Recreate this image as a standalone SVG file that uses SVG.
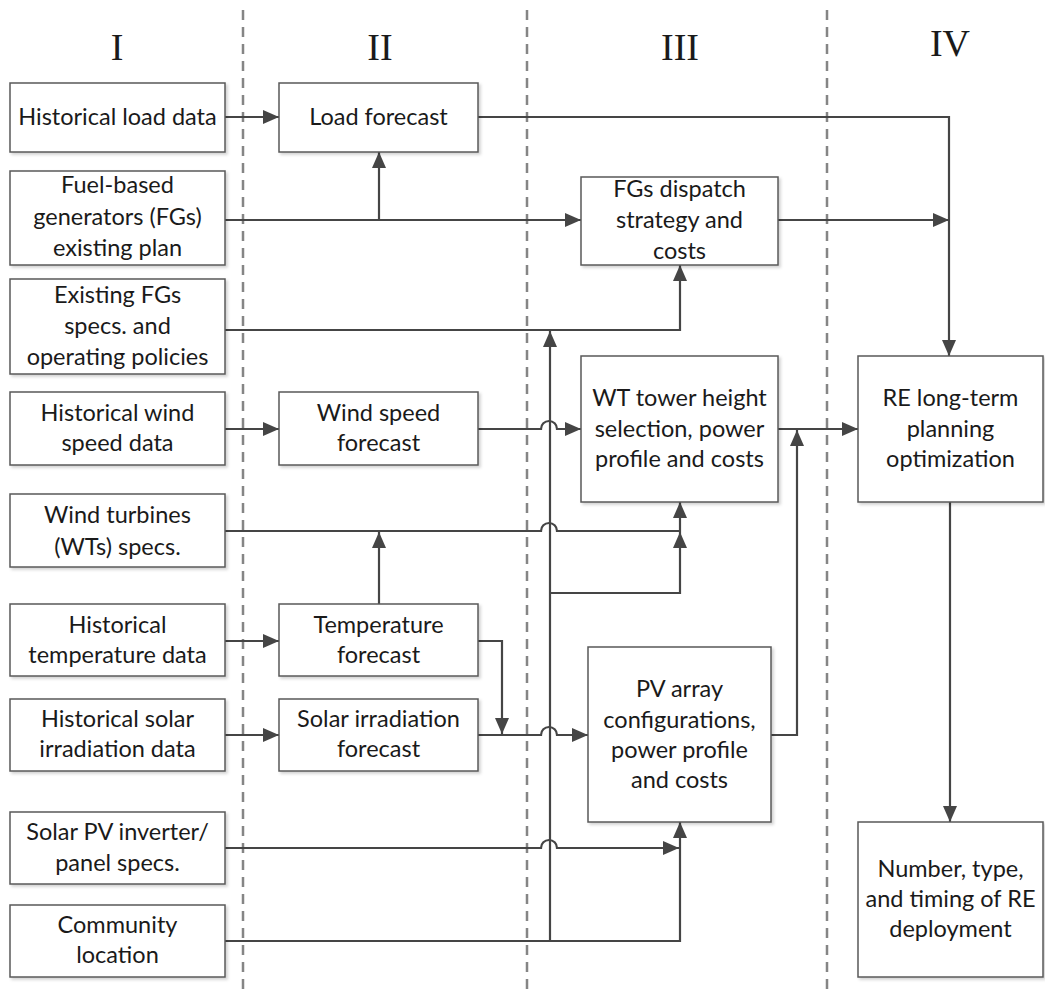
<svg xmlns="http://www.w3.org/2000/svg" width="1045" height="1003" viewBox="0 0 1045 1003">
<style>
.box{fill:#fff;stroke:#5a5a5a;stroke-width:1.5;filter:url(#sh)}
.t{font-family:Lato,"Open Sans","Liberation Sans",sans-serif;font-size:23.5px;fill:#1a1a1a;text-anchor:middle}
.rn{font-family:"Liberation Serif","Times New Roman",serif;font-size:38px;fill:#1a1a1a;text-anchor:middle}
.dash{stroke:#858585;stroke-width:2.5;stroke-dasharray:10 7;fill:none}
.c{fill:none;stroke:#454545;stroke-width:2.2}
.a{marker-end:url(#ah)}
</style>
<defs>
<filter id="sh" x="-10%" y="-10%" width="130%" height="130%">
<feDropShadow dx="2" dy="2" stdDeviation="1.5" flood-color="#000" flood-opacity="0.18"/>
</filter>
<marker id="ah" markerUnits="userSpaceOnUse" markerWidth="16" markerHeight="14" refX="16" refY="7" orient="auto">
<path d="M0,0 L16,7 L0,14 z" fill="#454545"/>
</marker>
</defs>
<rect width="1045" height="1003" fill="#fff"/>
<g id="dividers">
<line class="dash" x1="243" y1="10" x2="243" y2="995"/>
<line class="dash" x1="527" y1="10" x2="527" y2="995"/>
<line class="dash" x1="827" y1="10" x2="827" y2="995"/>
</g>
<g id="headers">
<text class="rn" x="117" y="60">I</text>
<text class="rn" x="380" y="60">II</text>
<text class="rn" x="680" y="60">III</text>
<text class="rn" x="950" y="56">IV</text>
</g>
<g id="connectors">
<path class="c a" d="M225,117 H279"/>
<path class="c a" d="M478,117 H949 V356"/>
<path class="c a" d="M225,220 H581"/>
<path class="c a" d="M379,220 V152"/>
<path class="c a" d="M778,220 H949"/>
<path class="c a" d="M225,330 H680 V265"/>
<path class="c a" d="M225,941 H680 V822"/>
<path class="c a" d="M550,941 V331"/>
<path class="c a" d="M550,593 H680 V532"/>
<path class="c a" d="M225,531 H541 A8,8 0 0 1 557,531 H680 V502"/>
<path class="c a" d="M379,604 V532"/>
<path class="c a" d="M225,429 H279"/>
<path class="c a" d="M478,429 H541 A8,8 0 0 1 557,429 H581"/>
<path class="c a" d="M778,429 H858"/>
<path class="c a" d="M771,735 H797 V430"/>
<path class="c a" d="M225,641 H279"/>
<path class="c a" d="M478,641 H502 V734"/>
<path class="c a" d="M225,735 H279"/>
<path class="c a" d="M478,735 H541 A8,8 0 0 1 557,735 H588"/>
<path class="c a" d="M225,848 H541 A8,8 0 0 1 557,848 H679"/>
<path class="c a" d="M950,502 V822"/>
</g>
<g id="n-hist-load"><rect class="box" x="10" y="83" width="215" height="69"/><text class="t" x="117.5" y="125">Historical load data</text></g>
<g id="n-fuel-plan"><rect class="box" x="10" y="171" width="215" height="94"/><text class="t" x="117.5" y="193">Fuel-based</text><text class="t" x="117.5" y="225">generators (FGs)</text><text class="t" x="117.5" y="256">existing plan</text></g>
<g id="n-fg-specs"><rect class="box" x="10" y="279" width="215" height="95"/><text class="t" x="117.5" y="303">Existing FGs</text><text class="t" x="117.5" y="334">specs. and</text><text class="t" x="117.5" y="365">operating policies</text></g>
<g id="n-hist-wind"><rect class="box" x="10" y="392" width="215" height="73"/><text class="t" x="117.5" y="421">Historical wind</text><text class="t" x="117.5" y="451">speed data</text></g>
<g id="n-wt-specs"><rect class="box" x="10" y="494" width="215" height="73"/><text class="t" x="117.5" y="523">Wind turbines</text><text class="t" x="117.5" y="555">(WTs) specs.</text></g>
<g id="n-hist-temp"><rect class="box" x="10" y="604" width="215" height="72"/><text class="t" x="117.5" y="633">Historical</text><text class="t" x="117.5" y="663">temperature data</text></g>
<g id="n-hist-solar"><rect class="box" x="10" y="699" width="215" height="72"/><text class="t" x="117.5" y="727">Historical solar</text><text class="t" x="117.5" y="757">irradiation data</text></g>
<g id="n-pv-specs"><rect class="box" x="10" y="812" width="215" height="72"/><text class="t" x="117.5" y="840">Solar PV inverter/</text><text class="t" x="117.5" y="871">panel specs.</text></g>
<g id="n-community"><rect class="box" x="10" y="905" width="215" height="72"/><text class="t" x="117.5" y="933">Community</text><text class="t" x="117.5" y="963">location</text></g>
<g id="n-load-fc"><rect class="box" x="279" y="83" width="199" height="69"/><text class="t" x="378.5" y="125">Load forecast</text></g>
<g id="n-wind-fc"><rect class="box" x="279" y="392" width="199" height="73"/><text class="t" x="378.5" y="421">Wind speed</text><text class="t" x="378.5" y="451">forecast</text></g>
<g id="n-temp-fc"><rect class="box" x="279" y="604" width="199" height="72"/><text class="t" x="378.5" y="633">Temperature</text><text class="t" x="378.5" y="663">forecast</text></g>
<g id="n-solar-fc"><rect class="box" x="279" y="699" width="199" height="72"/><text class="t" x="378.5" y="727">Solar irradiation</text><text class="t" x="378.5" y="757">forecast</text></g>
<g id="n-fg-dispatch"><rect class="box" x="581" y="177" width="197" height="88"/><text class="t" x="679.5" y="197">FGs dispatch</text><text class="t" x="679.5" y="228">strategy and</text><text class="t" x="679.5" y="259">costs</text></g>
<g id="n-wt-tower"><rect class="box" x="581" y="356" width="197" height="146"/><text class="t" x="679.5" y="406">WT tower height</text><text class="t" x="679.5" y="437">selection, power</text><text class="t" x="679.5" y="467">profile and costs</text></g>
<g id="n-pv-array"><rect class="box" x="588" y="647" width="183" height="175"/><text class="t" x="679.5" y="697">PV array</text><text class="t" x="679.5" y="728">configurations,</text><text class="t" x="679.5" y="758">power profile</text><text class="t" x="679.5" y="788">and costs</text></g>
<g id="n-re-opt"><rect class="box" x="858" y="356" width="185" height="146"/><text class="t" x="950.5" y="406">RE long-term</text><text class="t" x="950.5" y="437">planning</text><text class="t" x="950.5" y="467">optimization</text></g>
<g id="n-result"><rect class="box" x="858" y="822" width="185" height="155"/><text class="t" x="950.5" y="877">Number, type,</text><text class="t" x="950.5" y="907">and timing of RE</text><text class="t" x="950.5" y="937">deployment</text></g>
</svg>
